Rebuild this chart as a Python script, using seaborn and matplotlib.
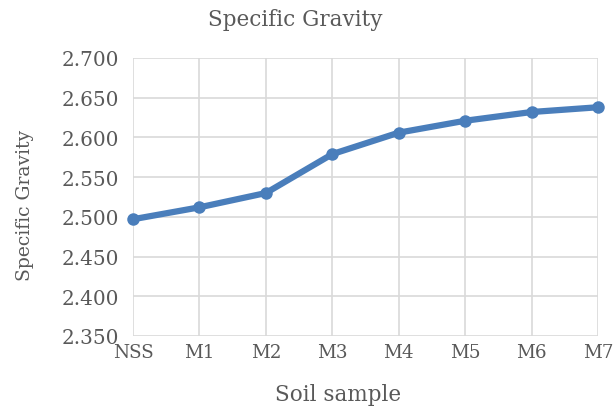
import matplotlib
matplotlib.use("Agg")
import matplotlib.pyplot as plt
import seaborn as sns
import pandas as pd

samples = ["NSS", "M1", "M2", "M3", "M4", "M5", "M6", "M7"]
specific_gravity = [2.497, 2.512, 2.530, 2.579, 2.606, 2.621, 2.632, 2.638]
y_ticks = [2.350, 2.400, 2.450, 2.500, 2.550, 2.600, 2.650, 2.700]

df = pd.DataFrame({"Soil sample": samples, "Specific Gravity": specific_gravity})

sns.set_theme(style="white")
plt.rcParams["font.family"] = ["DejaVu Serif"]

W, H = 613, 410
fig = plt.figure(figsize=(W / 100, H / 100), dpi=100)
ax = fig.add_axes([133 / W, 1 - 337 / H, (598 - 133) / W, (337 - 59) / H])

sns.lineplot(data=df, x="Soil sample", y="Specific Gravity", ax=ax,
             color="#4a7ebb", linewidth=4.5, marker="o", markersize=9,
             markeredgewidth=0, clip_on=False, zorder=3)

ax.set_xlim(0, len(samples) - 1)
ax.set_ylim(2.350, 2.700)
ax.set_yticks(y_ticks)
ax.set_yticklabels([f"{v:.3f}" for v in y_ticks])
ax.set_xticks(range(len(samples)))
ax.set_xticklabels(samples)

ax.grid(True, color="#d9d9d9", linewidth=1.2)
ax.set_axisbelow(True)
for s in ax.spines.values():
    s.set_visible(False)

ax.tick_params(axis="both", length=0, labelcolor="#595959")
ax.tick_params(axis="y", labelsize=14.4, pad=10)
ax.tick_params(axis="x", labelsize=13.2, pad=5)

ax.set_xlabel("")
ax.set_ylabel("")
fig.text(338 / W, 1 - 395 / H, "Soil sample", fontsize=15.5, color="#595959",
         ha="center", va="center")
fig.text(25 / W, 1 - 205 / H, "Specific Gravity", fontsize=13.5, color="#595959",
         ha="center", va="center", rotation=90)
fig.text(295 / W, 1 - 20 / H, "Specific Gravity", fontsize=15.5, color="#595959",
         ha="center", va="center")

fig.savefig("out.png", dpi=100)
